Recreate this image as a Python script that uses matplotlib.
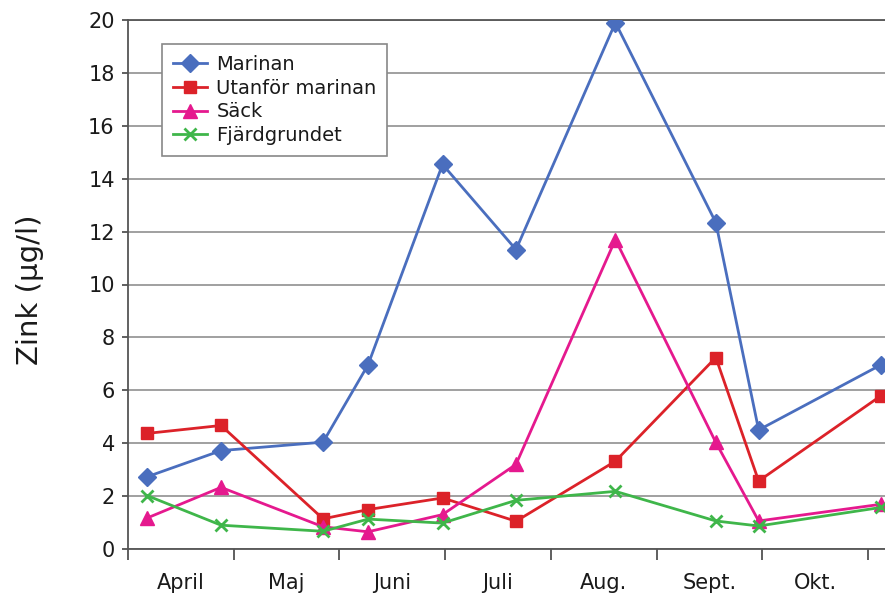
import matplotlib
matplotlib.use("Agg")
import matplotlib.pyplot as plt

# Data (x in months from start of April; ticks at month boundaries)
months = ["April", "Maj", "Juni", "Juli", "Aug.", "Sept.", "Okt."]
x_pos = [0.18, 0.88, 1.845, 2.27, 2.975, 3.67, 4.61, 5.56, 5.965, 7.12]
marinan = [2.73, 3.72, 4.04, 6.96, 14.54, 11.32, 19.9, 12.34, 4.5, 6.96]
utanfor = [4.37, 4.67, 1.14, 1.49, 1.93, 1.05, 3.32, 7.24, 2.57, 5.79]
sack = [1.17, 2.33, 0.84, 0.65, 1.30, 3.20, 11.7, 4.03, 1.06, 1.69]
fjard = [2.02, 0.90, 0.67, 1.13, 0.98, 1.84, 2.18, 1.06, 0.87, 1.57]
labels = ["Marinan", "Utanför marinan", "Säck", "Fjärdgrundet"]

W, H = 885, 599
fig = plt.figure(figsize=(W / 100, H / 100), dpi=100)
ax = fig.add_axes([128 / W, 50 / H, 757 / W, 529 / H])

ax.plot(x_pos, marinan, color="#4a6ebe", lw=2, marker="D", ms=9,
        mec="#4a6ebe", mfc="#4a6ebe", label=labels[0], zorder=5)
ax.plot(x_pos, utanfor, color="#dc2229", lw=2, marker="s", ms=9,
        mec="#dc2229", mfc="#dc2229", label=labels[1], zorder=5)
ax.plot(x_pos, sack, color="#e5198e", lw=2, marker="^", ms=10.5,
        mec="#e5198e", mfc="#e5198e", label=labels[2], zorder=5)
ax.plot(x_pos, fjard, color="#3fb64a", lw=2, marker="x", ms=8, mew=2,
        label=labels[3], zorder=5)

ax.set_xlim(0, 7.16)
ax.set_ylim(0, 20)
ax.set_yticks(range(0, 21, 2))
ax.yaxis.grid(True, color="#a0a0a0", lw=1.4)
ax.set_axisbelow(True)

ax.set_xticks(range(0, 8))
ax.set_xticklabels([])
ax.set_xticks([i + 0.5 for i in range(len(months))], minor=True)
ax.set_xticklabels(months, minor=True)
ax.tick_params(axis="x", which="major", direction="out", length=8,
               width=1.2, color="#444444")
ax.tick_params(axis="x", which="minor", length=0, pad=17, labelsize=15,
               labelcolor="#1a1a1a")
ax.tick_params(axis="y", direction="out", length=4.5, width=1.2,
               color="#444444", labelsize=15, labelcolor="#1a1a1a", pad=5)

for s in ["left", "bottom", "top"]:
    ax.spines[s].set_color("#555555")
    ax.spines[s].set_linewidth(1.3)
ax.spines["right"].set_visible(False)

fig.text(30 / W, 1 - 290 / H, "Zink (µg/l)", rotation=90, fontsize=21,
         color="#1a1a1a", ha="center", va="center")

leg = ax.legend(loc="upper left", bbox_to_anchor=(162 / W, 1 - 44 / H),
                bbox_transform=fig.transFigure, fontsize=14, frameon=True,
                fancybox=False, edgecolor="#888888", framealpha=1,
                borderpad=0.55, labelspacing=0.25, handlelength=1.75,
                handletextpad=0.5, borderaxespad=0)
leg.get_frame().set_linewidth(1.2)
for t in leg.get_texts():
    t.set_color("#1a1a1a")

fig.savefig("out.png", dpi=100)
